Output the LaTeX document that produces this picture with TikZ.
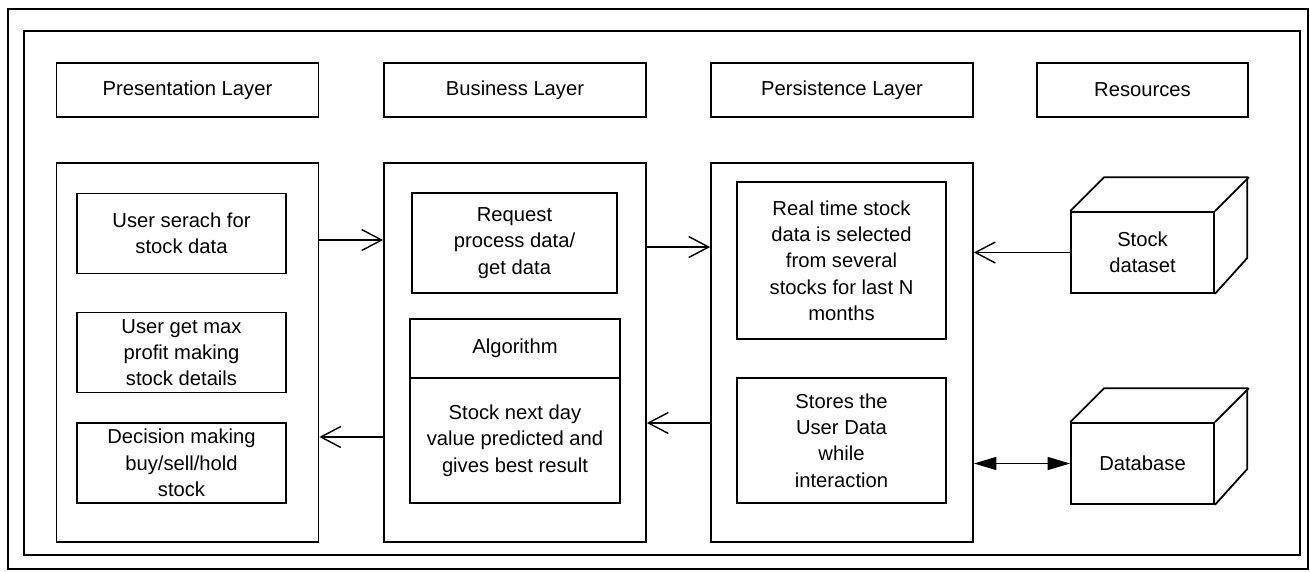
\documentclass[tikz,border=0pt]{standalone}
\usepackage{fontspec}
\setmainfont{Liberation Sans}
\usetikzlibrary{arrows.meta, positioning}
\tikzset{
    % one line width for all boxes
    base_width/.style={line width=1pt},
    frame_line/.style={draw=black, base_width},
    % header boxes on top of every column
    layer_head/.style={
        rectangle,
        draw=black,
        base_width,
        minimum width=5.24cm,
        minimum height=1.08cm,
        align=center,
        font=\fontsize{11.5}{15}\selectfont
    },
    % tall column boxes
    layer_box/.style={
        rectangle,
        draw=black,
        base_width,
        minimum width=5.24cm,
        minimum height=7.58cm
    },
    item_box/.style={
        rectangle,
        draw=black,
        base_width,
        minimum width=4.18cm,
        minimum height=1.6cm,
        inner sep=0pt,
        align=center,
        font=\fontsize{11.5}{15}\selectfont
    },
    cube_front/.style={
        item_box,
        minimum width=2.86cm,
        minimum height=1.62cm
    },
    open_arrow/.style={
        -{Straight Barb[length=4mm, width=4.2mm]},
        draw=black,
        line width=0.8pt
    },
    both_arrow/.style={
        {Triangle[length=4.5mm, width=2.6mm]}-{Triangle[length=4.5mm, width=2.6mm]},
        draw=black,
        line width=0.8pt
    }
}

\begin{document}
\begin{tikzpicture}[x=0.02cm, y=-0.02cm]
    \useasboundingbox (0,0) rectangle (1310,571);

    % --- FRAMES ---
    \draw[frame_line] (8,9) rectangle (1308,569);
    \draw[frame_line] (24,31) rectangle (1300,555);

    % --- HEADERS ---
    \node[layer_head] (pres_head) at (187.5,90) {Presentation Layer};
    \node[layer_head] (bus_head) at (515,90) {Business Layer};
    \node[layer_head] (pers_head) at (842,90) {Persistence Layer};
    \node[layer_head, minimum width=4.22cm] (res_head) at (1142.5,90) {Resources};

    % --- COLUMNS ---
    \node[layer_box] (pres_col) at (187.5,352.5) {};
    \node[layer_box] (bus_col) at (515,352.5) {};
    \node[layer_box] (pers_col) at (842,352.5) {};

    % --- PRESENTATION ---
    \node[item_box] (user_search) at (181.5,233.5) {User serach for\\stock data};
    \node[item_box] (user_profit) at (181.5,352.5) {User get max\\profit making\\stock details};
    \node[item_box] (decision) at (181.5,463) {Decision making\\buy/sell/hold\\stock};

    % --- BUSINESS ---
    \node[item_box, minimum width=4.1cm, minimum height=2cm] (req_data) at (514.5,243) {Request\\process data/\\get data};
    \node[item_box, minimum width=4.2cm, minimum height=1.18cm] (alg_title) at (515,348.5) {Algorithm};
    \node[item_box, minimum width=4.2cm, minimum height=2.5cm, below=-1pt of alg_title] (alg_body) {Stock next day\\value predicted and\\gives best result};

    % --- PERSISTENCE ---
    \node[item_box, minimum height=3.14cm] (real_time) at (841.5,260.5) {Real time stock\\data is selected\\from several\\stocks for last N\\months};
    \node[item_box, minimum height=2.5cm] (stores) at (841.5,440.5) {Stores the\\User Data\\while\\interaction};

    % --- RESOURCES ---
    \node[cube_front] (stock_front) at (1142.5,252.5) {Stock\\dataset};
    \node[cube_front] (db_front) at (1142.5,463.5) {Database};
    \foreach \c in {stock_front, db_front} {
        \draw[base_width] (\c.north west) -- ++(34,-34) -- ++(143,0) -- ++(0,81) -- (\c.south east);
        \draw[base_width] (\c.north east) -- ++(34,-34);
    }

    % --- CONNECTIONS ---
    \draw[open_arrow] ([yshift=2.25cm]pres_col.east) -- ([yshift=2.25cm]bus_col.west);
    \draw[open_arrow] ([yshift=2.11cm]bus_col.east) -- ([yshift=2.11cm]pers_col.west);
    \draw[open_arrow] (stock_front.west) -- (pers_col.east |- stock_front.west);
    \draw[open_arrow] ([yshift=-1.41cm]pers_col.west) -- ([yshift=-1.41cm]bus_col.east);
    \draw[open_arrow] ([yshift=-1.69cm]bus_col.west) -- ([yshift=-1.69cm]pres_col.east);
    \draw[both_arrow] (pers_col.east |- db_front.west) -- (db_front.west);

\end{tikzpicture}
\end{document}
